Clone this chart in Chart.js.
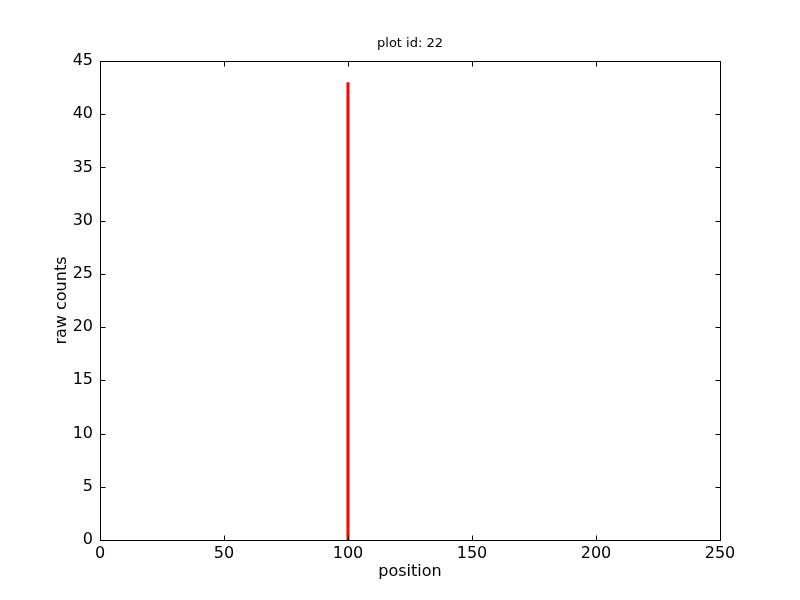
<!DOCTYPE html>
<html>
<head>
<meta charset="utf-8">
<script src="https://cdn.jsdelivr.net/npm/chart.js@4/dist/chart.umd.min.js"></script>
<style>
  html, body { margin: 0; padding: 0; background: #fff; }
  #wrap { width: 800px; height: 600px; }
</style>
</head>
<body>
<div id="wrap"><canvas id="plot" width="800" height="600"></canvas></div>
<script>
// data
const positions = [100];
const rawCounts = [43];
const xTicks = [0, 50, 100, 150, 200, 250];
const yTicks = [0, 5, 10, 15, 20, 25, 30, 35, 40, 45];
const plotTitle = 'plot id: 22';

// vertical lines from 0 up to each count, separated by gaps
const linePoints = [];
positions.forEach((p, i) => {
  linePoints.push({ x: p, y: 0 });
  linePoints.push({ x: p, y: rawCounts[i] });
  linePoints.push({ x: p, y: null });
});

const font = 'DejaVu Sans, sans-serif';

// inner ticks on all four sides, the frame, and the title
const framePlugin = {
  id: 'frame',
  afterDraw(chart) {
    const c = chart.ctx;
    const a = chart.chartArea;
    const xs = chart.scales.x, ys = chart.scales.y;
    const l = Math.round(a.left) + 0.5, r = Math.round(a.right) + 0.5;
    const t = Math.round(a.top) + 0.5, b = Math.round(a.bottom) + 0.5;
    c.save();
    c.strokeStyle = '#000';
    c.lineWidth = 1;
    c.strokeRect(l, t, r - l, b - t);
    c.beginPath();
    xs.ticks.forEach(tk => {
      const px = Math.round(xs.getPixelForValue(tk.value)) + 0.5;
      c.moveTo(px, b); c.lineTo(px, b - 5);
      c.moveTo(px, t); c.lineTo(px, t + 5);
    });
    ys.ticks.forEach(tk => {
      const py = Math.round(ys.getPixelForValue(tk.value)) + 0.5;
      c.moveTo(l, py); c.lineTo(l + 5, py);
      c.moveTo(r, py); c.lineTo(r - 5, py);
    });
    c.stroke();
    c.fillStyle = '#000';
    c.font = '13px ' + font;
    c.textAlign = 'center';
    c.textBaseline = 'middle';
    c.fillText(plotTitle, (a.left + a.right) / 2, 44);
    c.restore();
  }
};

new Chart(document.getElementById('plot'), {
  type: 'line',
  data: {
    datasets: [{
      data: linePoints,
      borderColor: '#ff0000',
      borderWidth: 3,
      pointRadius: 0,
      spanGaps: false,
      fill: false
    }]
  },
  options: {
    responsive: false,
    animation: false,
    layout: { padding: { top: 61, right: 80, left: 48, bottom: 15 } },
    plugins: { legend: { display: false }, tooltip: { enabled: false } },
    scales: {
      x: {
        type: 'linear',
        min: 0, max: 250,
        afterBuildTicks: s => { s.ticks = xTicks.map(v => ({ value: v })); },
        afterFit: s => { s.height = 45; },
        grid: { display: false, drawOnChartArea: false, tickLength: 0 },
        border: { display: false },
        ticks: { color: '#000', font: { family: font, size: 16 }, padding: 4, maxRotation: 0 },
        title: { display: true, text: 'position', color: '#000', font: { family: font, size: 16 }, padding: { top: 0, bottom: 4 } }
      },
      y: {
        min: 0, max: 45,
        afterBuildTicks: s => { s.ticks = yTicks.map(v => ({ value: v })); },
        afterFit: s => { s.width = 52; },
        grid: { display: false, drawOnChartArea: false, tickLength: 0 },
        border: { display: false },
        ticks: { color: '#000', font: { family: font, size: 16 }, padding: 7 },
        title: { display: true, text: 'raw counts', color: '#000', font: { family: font, size: 16 }, padding: { top: 4, bottom: 0 } }
      }
    }
  },
  plugins: [framePlugin]
});
</script>
</body>
</html>
